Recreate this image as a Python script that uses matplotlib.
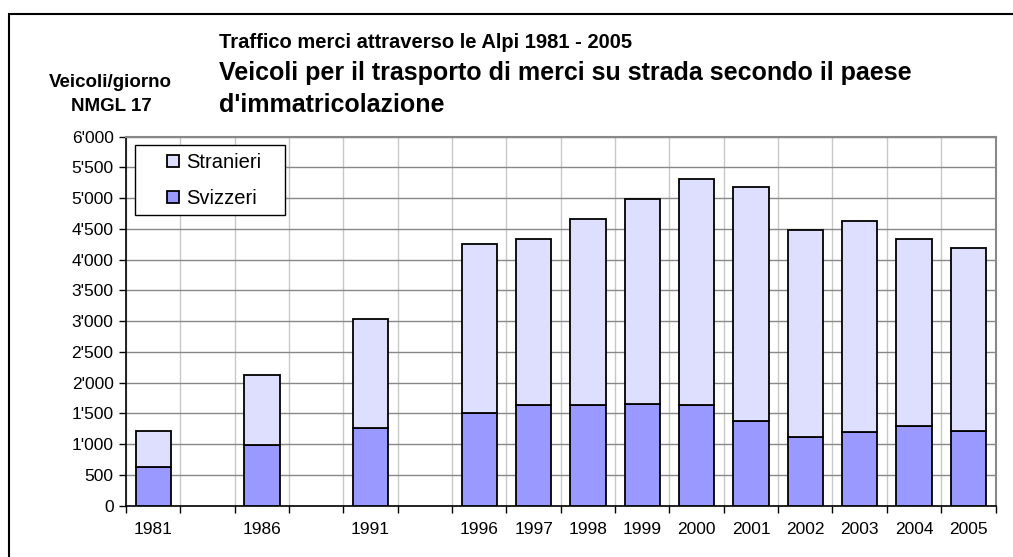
import numpy as np
import matplotlib
matplotlib.use('Agg')
import matplotlib.pyplot as plt
from matplotlib.ticker import FuncFormatter, FixedLocator
from matplotlib.patches import Rectangle

plt.rcParams['font.family'] = ['Liberation Sans', 'DejaVu Sans']

# categories (blank slots keep the 5-year gaps of the original chart)
years = ['1981', '', '1986', '', '1991', '', '1996', '1997', '1998', '1999',
         '2000', '2001', '2002', '2003', '2004', '2005']
# vehicles per day (nan = empty slot)
svizzeri = [623, np.nan, 992, np.nan, 1268, np.nan, 1507, 1637, 1637, 1659,
            1637, 1377, 1117, 1192, 1301, 1220]
totale = [1220, np.nan, 2125, np.nan, 3035, np.nan, 4255, 4336, 4667, 4981,
          5317, 5187, 4488, 4623, 4336, 4184]
stranieri = [t - s for t, s in zip(totale, svizzeri)]

c_sv = '#9999ff'
c_st = '#dedeff'

W, H = 1013, 557
fig = plt.figure(figsize=(W / 100, H / 100), dpi=100)
ax = fig.add_axes([126 / W, 1 - 505.7 / H, 869.5 / W, 369 / H])

x = np.arange(len(years))
sv = np.nan_to_num(svizzeri)
st = np.nan_to_num(stranieri)
mask = ~np.isnan(np.array(svizzeri, dtype=float))
b1 = ax.bar(x[mask], sv[mask], width=0.65, color=c_sv, edgecolor='black', linewidth=1.3, zorder=3)
b2 = ax.bar(x[mask], st[mask], width=0.65, bottom=sv[mask], color=c_st, edgecolor='black',
            linewidth=1.3, zorder=3)

ax.set_xlim(-0.5, len(years) - 0.5)
ax.set_ylim(0, 6000)
ax.set_yticks(np.arange(0, 6001, 500))
ax.yaxis.set_major_formatter(FuncFormatter(lambda v, p: '{:,.0f}'.format(v).replace(',', "'")))

# ticks and vertical grid on category boundaries, labels at centres
ax.xaxis.set_major_locator(FixedLocator(np.arange(-0.5, len(years), 1.0)))
ax.xaxis.set_minor_locator(FixedLocator(x))
ax.set_xticklabels([])
ax.set_xticklabels(years, minor=True)
ax.tick_params(axis='x', which='minor', length=0, pad=12, labelsize=12.5)
ax.tick_params(axis='x', which='major', length=5, width=1, direction='out')
ax.tick_params(axis='y', length=5, width=1, direction='out', labelsize=12.5, pad=4)

ax.grid(axis='y', color='#888888', linewidth=1, zorder=0)
ax.grid(axis='x', which='major', color='#c8c8c8', linewidth=1, zorder=0)
ax.set_axisbelow(True)
for s in ['top', 'right']:
    ax.spines[s].set_color('#888888')
    ax.spines[s].set_linewidth(1.5)
for s in ['left', 'bottom']:
    ax.spines[s].set_color('black')
    ax.spines[s].set_linewidth(1.2)

# legend: white box with a black edge, entries placed inside it
ax.add_patch(Rectangle((9 / 869.5, (505.7 - 215) / 369), 150 / 869.5, 70 / 369,
                       transform=ax.transAxes, facecolor='white', edgecolor='black',
                       linewidth=1, zorder=4))
leg = ax.legend([b2, b1], ['Stranieri', 'Svizzeri'], loc='upper left',
                bbox_to_anchor=(41 / 869.5, (505.7 - 153) / 369), fontsize=14.5,
                frameon=False, handlelength=0.6, handleheight=0.6, handletextpad=0.35,
                borderpad=0, labelspacing=0.85, borderaxespad=0)
leg.set_zorder(5)

fig.text(219 / W, 1 - 48 / H, 'Traffico merci attraverso le Alpi 1981 - 2005',
         fontsize=14.5, fontweight='bold', va='baseline', ha='left')
fig.text(219 / W, 1 - 80 / H, 'Veicoli per il trasporto di merci su strada secondo il paese',
         fontsize=18, fontweight='bold', va='baseline', ha='left')
fig.text(219 / W, 1 - 112 / H, "d'immatricolazione",
         fontsize=18, fontweight='bold', va='baseline', ha='left')
fig.text(110 / W, 1 - 87 / H, 'Veicoli/giorno', fontsize=13.5, fontweight='bold',
         va='baseline', ha='center')
fig.text(111 / W, 1 - 111 / H, 'NMGL 17', fontsize=13.5, fontweight='bold',
         va='baseline', ha='center')

# outer chart frame (only top and left edges fall inside the picture)
fig.patches.append(Rectangle((9 / W, -0.1), 1.2, 1.1 - 14 / H, transform=fig.transFigure,
                             fill=False, edgecolor='black', linewidth=1.5))

fig.savefig('out.png', dpi=100)
